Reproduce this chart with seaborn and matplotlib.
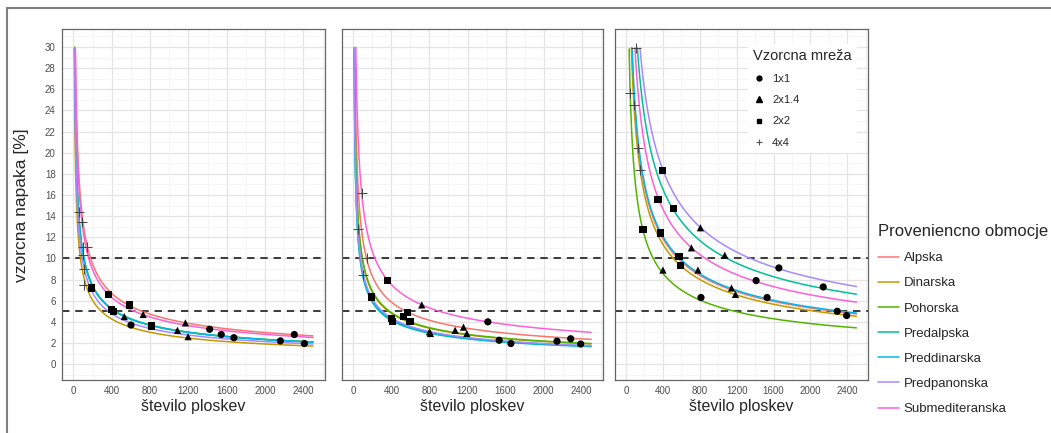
import numpy as np
import pandas as pd
import matplotlib
matplotlib.use("Agg")
import matplotlib.pyplot as plt
from matplotlib.lines import Line2D
from matplotlib.ticker import MultipleLocator
import seaborn as sns

# categories
regions = ["Alpska", "Dinarska", "Pohorska", "Predalpska",
           "Preddinarska", "Predpanonska", "Submediteranska"]
region_colors = ["#F8766D", "#C49A00", "#53B400", "#00C094",
                 "#00B6EB", "#A58AFF", "#FB61D7"]
grids = ["1x1", "2x1.4", "2x2", "4x4"]
G4 = ["1x1", "2x1.4", "2x2", "4x4"]

# left panel
left_region = (["Alpska"] * 4 + ["Submediteranska"] * 4 + ["Predpanonska"] * 4 + ["Pohorska"] * 4
               + ["Predalpska"] * 4 + ["Preddinarska"] * 3 + ["Dinarska"] * 2)
left_grid = G4 * 5 + ["1x1", "2x2", "4x4"] + ["1x1", "4x4"]
left_n = [2305, 1168, 582, 141, 1421, 727, 364, 90, 2410, 1196, 814, 107, 1674, 1085, 415, 97,
          2159, 530, 400, 55, 1542, 190, 100, 600, 114]
left_err = [2.8, 3.9, 5.6, 11.1, 3.3, 4.7, 6.6, 13.4, 1.95, 2.6, 3.6, 9.0, 2.5, 3.2, 5.0, 11.1,
            2.2, 4.5, 5.2, 14.4, 2.8, 7.2, 10.3, 3.7, 7.5]

# middle panel
mid_region = (["Submediteranska"] * 4 + ["Alpska"] * 4 + ["Dinarska"] * 4 + ["Pohorska"] * 4
              + ["Predalpska"] * 3 + ["Preddinarska"] * 2 + ["Predpanonska"] * 2)
mid_grid = G4 * 4 + ["1x1", "2x1.4", "2x2"] + ["1x1", "2x2"] + ["2x1.4", "2x2"]
mid_n = [1414, 719, 361, 87, 2285, 1158, 570, 140, 2390, 1193, 596, 53, 2141, 1070, 526, 98,
         1656, 810, 403, 1533, 415, 800, 193]
mid_err = [4.0, 5.6, 7.9, 16.2, 2.4, 3.5, 4.9, 10.0, 1.9, 2.9, 4.0, 12.8, 2.17, 3.2, 4.5, 8.4,
           1.95, 2.9, 4.3, 2.26, 4.0, 3.05, 6.35]

# right panel
right_region = (["Pohorska"] * 4 + ["Dinarska"] * 4 + ["Preddinarska"] * 4 + ["Alpska"] * 4
                + ["Submediteranska"] * 3 + ["Predalpska"] * 4 + ["Predpanonska"] * 3)
right_grid = G4 * 4 + ["1x1", "2x1.4", "2x2"] + G4 + ["1x1", "2x1.4", "2x2"]
right_n = [813, 400, 183, 38, 2393, 1187, 589, 125, 1530, 780, 375, 89, 2291, 1144, 574, 147,
           1411, 709, 346, 2139, 1071, 516, 111, 1658, 807, 397]
right_err = [6.3, 8.9, 12.7, 25.6, 4.6, 6.6, 9.3, 20.4, 6.3, 8.9, 12.4, 24.5, 5.0, 7.2, 10.2, 18.4,
             7.9, 11.0, 15.6, 7.3, 10.3, 14.7, 29.9, 9.1, 12.9, 18.3]

x_ticks = [0, 400, 800, 1200, 1600, 2000, 2400]
y_ticks = list(range(0, 31, 2))

sns.set_style("white")
plt.rcParams["font.family"] = ["Liberation Sans", "DejaVu Sans"]

W, H = 1051, 433
fig = plt.figure(figsize=(W / 100, H / 100), dpi=100)

panels = [(left_region, left_grid, left_n, left_err, 62, 325),
          (mid_region, mid_grid, mid_n, mid_err, 342, 603),
          (right_region, right_grid, right_n, right_err, 615, 868)]

axes = []
for i, (reg, grd, n, err, x0, x1) in enumerate(panels):
    ax = fig.add_axes([x0 / W, 1 - 380 / H, (x1 - x0) / W, (380 - 29) / H])
    axes.append(ax)
    pts = pd.DataFrame({"region": reg, "grid": grd, "n": n, "err": err})

    # fit err = c / sqrt(n) per region (log-log regression, slope fixed at -0.5)
    curves = []
    for r in regions:
        sub = pts[pts.region == r]
        if sub.empty:
            continue
        c = np.exp(np.mean(np.log(sub.err * np.sqrt(sub.n))))
        nn = np.geomspace(4, 2500, 400)
        ee = c / np.sqrt(nn)
        keep = ee <= 30
        curves.append(pd.DataFrame({"region": r, "n": nn[keep], "err": ee[keep]}))
    curves = pd.concat(curves, ignore_index=True)

    ax.axhline(10, color="#3a3a3a", lw=1.4, dashes=(3.8, 3), zorder=2)
    ax.axhline(5, color="#3a3a3a", lw=1.4, dashes=(3.8, 3), zorder=2)

    sns.lineplot(data=curves, x="n", y="err", hue="region", hue_order=regions,
                 palette=region_colors, lw=1.1, estimator=None, sort=False,
                 legend=False, ax=ax, zorder=3)

    filled = pts[pts.grid != "4x4"]
    sns.scatterplot(data=filled, x="n", y="err", style="grid", style_order=["1x1", "2x1.4", "2x2"],
                    markers={"1x1": "o", "2x1.4": "^", "2x2": "s"}, color="black",
                    s=27, linewidth=0, legend=False, ax=ax, zorder=4)
    plus = pts[pts.grid == "4x4"]
    sns.scatterplot(data=plus, x="n", y="err", marker="+", color="#444444",
                    s=55, linewidth=0.7, legend=False, ax=ax, zorder=4)

    ax.set_xlim(-120, 2625)
    ax.set_ylim(-1.5, 31.7)
    ax.set_xticks(x_ticks)
    ax.set_yticks(y_ticks)
    ax.xaxis.set_minor_locator(MultipleLocator(200))
    ax.yaxis.set_minor_locator(MultipleLocator(1))
    ax.grid(which="major", color="#E4E4E4", lw=0.9)
    ax.grid(which="minor", color="#F1F1F1", lw=0.5)
    ax.set_axisbelow(True)
    ax.tick_params(which="major", direction="out", length=2.5, width=0.7, color="#333333",
                   labelsize=7, labelcolor="#4D4D4D", pad=2)
    ax.tick_params(which="minor", length=0)
    if i > 0:
        ax.tick_params(labelleft=False)
    ax.set_ylabel("")
    ax.set_xlabel("število ploskev", fontsize=11.5, labelpad=2)
    for sp in ax.spines.values():
        sp.set_color("#666666")
        sp.set_linewidth(0.9)

# legend for sampling grid inside right panel
grid_handles = [Line2D([], [], ls="none", marker="o", color="black", markersize=3.5),
                Line2D([], [], ls="none", marker="^", color="black", markersize=3.8),
                Line2D([], [], ls="none", marker="s", color="black", markersize=3.3),
                Line2D([], [], ls="none", marker="+", color="#555555", markersize=5, mew=0.8)]
axes[2].legend(grid_handles, grids, title="Vzorcna mreža", loc="upper left",
               bbox_to_anchor=(742 / W, 1 - 38 / H), bbox_transform=fig.transFigure,
               frameon=True, facecolor="white", edgecolor="none", framealpha=1,
               fontsize=8, title_fontsize=10.5, handlelength=1.0, handletextpad=0.7,
               labelspacing=1.0, borderpad=0.5, alignment="left")

# legend for provenance regions
reg_handles = [Line2D([], [], color=c, lw=1.1) for c in region_colors]
fig.legend(reg_handles, regions, title="Proveniencno obmocje", loc="upper left",
           bbox_to_anchor=(878 / W, 1 - 224 / H), frameon=False, fontsize=9.5,
           title_fontsize=12, handlelength=1.6, handletextpad=0.35, labelspacing=0.98,
           alignment="left", borderaxespad=0, borderpad=0)

fig.text(22 / W, 1 - 205 / H, "vzorcna napaka [%]", rotation=90, ha="center", va="center",
         fontsize=12.5)

# outer frame
fig.add_artist(Line2D([7 / W, 7 / W], [0, 1 - 8 / H], transform=fig.transFigure,
                      color="#808080", lw=1.5))
fig.add_artist(Line2D([7 / W, 1], [1 - 8 / H, 1 - 8 / H], transform=fig.transFigure,
                      color="#808080", lw=1.5))

fig.savefig("out.png", dpi=100)
